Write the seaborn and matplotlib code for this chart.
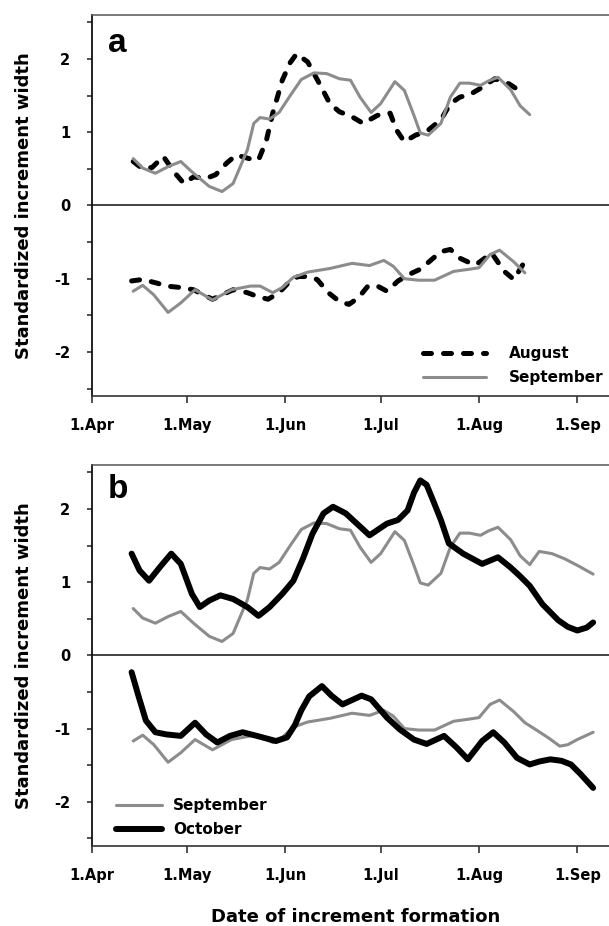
import matplotlib
matplotlib.use("Agg")
import numpy as np
import pandas as pd
import matplotlib.pyplot as plt
import seaborn as sns

# ─── Data (x = days counted from 1 April) ────────────────────────────────────
MONTH_DAYS   = [0, 30, 61, 91, 122, 153]
MONTH_LABELS = ["1.Apr", "1.May", "1.Jun", "1.Jul", "1.Aug", "1.Sep"]

# September chronology (shown in both panels)
sep_pos_day = [13, 16, 20, 24, 28, 32, 37, 41, 44.5, 49, 51, 53, 56, 59, 62.5,
               66, 70, 74, 78, 81.5, 84.5, 88, 91, 95.5, 98.5, 101.5, 103.5,
               106, 110, 113, 116, 119, 122.5, 125, 128, 132, 135, 138, 141,
               145, 149, 153, 158]
sep_pos_val = [0.64, 0.51, 0.44, 0.53, 0.60, 0.44, 0.26, 0.19, 0.30, 0.76,
               1.12, 1.20, 1.18, 1.27, 1.50, 1.72, 1.81, 1.80, 1.73, 1.71,
               1.48, 1.27, 1.39, 1.69, 1.57, 1.23, 0.99, 0.96, 1.12, 1.48,
               1.67, 1.67, 1.64, 1.70, 1.75, 1.58, 1.36, 1.24, 1.42, 1.39,
               1.32, 1.23, 1.11]
sep_neg_day = [13, 16, 19.5, 24, 28, 32.5, 38, 44, 50, 53, 57, 60, 63.5, 68,
               75, 82, 87.5, 92, 95, 98.5, 103, 108, 114, 119, 122, 125.5,
               128.5, 133, 136.5, 140.5, 144, 147.5, 150, 153, 158]
sep_neg_val = [-1.17, -1.09, -1.22, -1.46, -1.33, -1.15, -1.29, -1.15, -1.10,
               -1.10, -1.19, -1.12, -0.98, -0.91, -0.86, -0.79, -0.82, -0.75,
               -0.83, -1.00, -1.02, -1.02, -0.90, -0.87, -0.85, -0.67, -0.61,
               -0.77, -0.92, -1.03, -1.13, -1.24, -1.22, -1.15, -1.05]

# August chronology (panel a)
aug_pos_day = [13, 16, 19, 22.5, 26, 29, 32, 36, 39, 42.5, 45.5, 49.5, 52.5,
               55, 57, 60, 62.5, 64.5, 68, 72, 75, 78, 82, 85.5, 90, 94, 96,
               98.5, 102, 105.5, 110, 113, 116, 119, 122.5, 127, 131.5, 136]
aug_pos_val = [0.60, 0.50, 0.52, 0.67, 0.45, 0.30, 0.39, 0.37, 0.42, 0.58,
               0.69, 0.64, 0.62, 0.89, 1.26, 1.71, 1.95, 2.07, 1.96, 1.64,
               1.39, 1.28, 1.21, 1.12, 1.23, 1.26, 1.03, 0.87, 0.96, 1.01,
               1.17, 1.39, 1.48, 1.51, 1.60, 1.73, 1.66, 1.53]
aug_neg_day = [12.5, 16, 20.5, 23.5, 28, 32, 38, 44.5, 49, 52, 55.5, 59, 62.5,
               65, 68, 71, 74.5, 78, 81, 84, 87, 90, 93, 96.5, 100, 103.5,
               106.5, 110, 113, 116, 119, 121, 126, 130, 133, 136.5]
aug_neg_val = [-1.03, -1.01, -1.06, -1.10, -1.12, -1.15, -1.28, -1.15, -1.19,
               -1.24, -1.28, -1.19, -1.03, -0.97, -0.97, -1.01, -1.19, -1.31,
               -1.35, -1.26, -1.10, -1.10, -1.17, -1.03, -0.94, -0.87, -0.76,
               -0.63, -0.60, -0.72, -0.78, -0.81, -0.65, -0.90, -1.01, -0.76]

# October chronology (panel b)
oct_pos_day = [12.5, 15, 18, 21.5, 25, 28, 31.5, 34, 37, 40.5, 44.5, 49, 52.5,
               56, 60, 63.5, 66.5, 69.5, 73, 76, 80, 84, 87.5, 93, 96.5, 99.5,
               101.5, 103.5, 105.5, 107.5, 110, 112.5, 117, 123, 128, 132,
               135, 138, 142, 147, 150, 153, 156, 158]
oct_pos_val = [1.39, 1.16, 1.02, 1.21, 1.39, 1.25, 0.84, 0.66, 0.75, 0.82,
               0.77, 0.66, 0.54, 0.66, 0.84, 1.02, 1.32, 1.66, 1.94, 2.03,
               1.94, 1.78, 1.64, 1.80, 1.85, 1.98, 2.22, 2.39, 2.33, 2.12,
               1.85, 1.53, 1.39, 1.25, 1.34, 1.20, 1.08, 0.95, 0.70, 0.48,
               0.39, 0.34, 0.38, 0.45]
oct_neg_day = [12.5, 14.5, 17, 20, 23.5, 28, 32.5, 36, 39.5, 43.5, 47.5, 52,
               58, 61.5, 64, 66, 68.5, 72.5, 75.5, 79, 85, 88, 93, 97, 101.5,
               105.5, 111, 115, 118.5, 123, 126.5, 130, 134, 138, 141, 144.5,
               148, 151, 154, 158]
oct_neg_val = [-0.23, -0.53, -0.89, -1.05, -1.08, -1.10, -0.92, -1.08, -1.19,
               -1.10, -1.05, -1.10, -1.17, -1.12, -0.95, -0.75, -0.56, -0.42,
               -0.55, -0.67, -0.55, -0.60, -0.85, -1.01, -1.15, -1.21, -1.10,
               -1.26, -1.42, -1.17, -1.05, -1.19, -1.40, -1.49, -1.45, -1.42,
               -1.44, -1.49, -1.62, -1.81]

TOP_END = 138   # panel a stops in mid August

# ─── Styling ─────────────────────────────────────────────────────────────────
sns.set_style("ticks")
plt.rcParams["font.family"] = ["DejaVu Sans"]
plt.rcParams["axes.unicode_minus"] = False
plt.rcParams["text.color"] = "black"
plt.rcParams["xtick.color"] = "black"
plt.rcParams["ytick.color"] = "black"

GRAY = "#8c8c8c"
BOLD = dict(weight="bold")
SOLID = dict(solid_joinstyle="round", solid_capstyle="round")


def series(days, vals, end=None):
    df = pd.DataFrame({"day": days, "val": vals})
    if end is not None:
        df = df[df["day"] <= end]
    return df


def draw(ax, df, **kw):
    sns.lineplot(data=df, x="day", y="val", ax=ax, estimator=None, sort=False, **kw)


def style_axes(ax):
    ax.set_xlim(0, 163)
    ax.set_ylim(-2.6, 2.6)
    ax.axhline(0, color="#222222", lw=1.2, zorder=1)
    ax.set_xticks(MONTH_DAYS)
    ax.set_xticklabels(MONTH_LABELS, fontsize=10.5, **BOLD)
    ax.set_yticks([-2, -1, 0, 1, 2])
    ax.set_yticklabels(["-2", "-1", "0", "1", "2"], fontsize=10.5, **BOLD)
    ax.set_yticks([-2.5, -1.5, -0.5, 0.5, 1.5, 2.5], minor=True)
    ax.tick_params(axis="y", which="both", direction="out", length=3.6,
                   width=1.1, pad=12, color="#222222")
    ax.tick_params(axis="x", direction="out", length=4.8, width=1.1,
                   pad=11, color="#222222")
    ax.set_xlabel("")
    ax.set_ylabel("")
    ax.spines["right"].set_visible(False)
    ax.spines["left"].set_linewidth(1.3)
    ax.spines["left"].set_color("#111111")
    ax.spines["bottom"].set_linewidth(1.2)
    ax.spines["bottom"].set_color("#333333")
    ax.spines["top"].set_linewidth(1.1)
    ax.spines["top"].set_color("#555555")


fig = plt.figure(figsize=(6.09, 9.26), dpi=100)
ax_a = fig.add_axes([0.151, 0.5724, 0.849, 0.4114])
ax_b = fig.add_axes([0.151, 0.0867, 0.849, 0.4111])

# ─── Panel a: August vs September ────────────────────────────────────────────
dash = dict(color="black", lw=3.6, linestyle=(0, (1.6, 2.4)),
            dash_capstyle="round", dash_joinstyle="round")
draw(ax_a, series(aug_pos_day, aug_pos_val), label="August", **dash)
draw(ax_a, series(aug_neg_day, aug_neg_val), **dash)
draw(ax_a, series(sep_pos_day, sep_pos_val, TOP_END), color=GRAY, lw=2.2,
     label="September", **SOLID)
draw(ax_a, series(sep_neg_day, sep_neg_val, TOP_END), color=GRAY, lw=2.2,
     **SOLID)
style_axes(ax_a)
ax_a.text(0.031, 0.903, "a", transform=ax_a.transAxes, fontsize=24,
          family="Liberation Sans", va="baseline", ha="left", **BOLD)
h, l = ax_a.get_legend_handles_labels()
ax_a.legend(h[:2], l[:2], loc="center left", bbox_to_anchor=(0.6946, 0.605),
            bbox_transform=fig.transFigure, frameon=False, borderpad=0,
            borderaxespad=0, handlelength=4.1, handletextpad=1.5,
            labelspacing=0.6, prop=dict(size=11, weight="bold"))

# ─── Panel b: September vs October ───────────────────────────────────────────
draw(ax_b, series(sep_pos_day, sep_pos_val), color=GRAY, lw=2.2,
     label="September", **SOLID)
draw(ax_b, series(sep_neg_day, sep_neg_val), color=GRAY, lw=2.2, **SOLID)
draw(ax_b, series(oct_pos_day, oct_pos_val), color="black", lw=4.3,
     label="October", **SOLID)
draw(ax_b, series(oct_neg_day, oct_neg_val), color="black", lw=4.3, **SOLID)
style_axes(ax_b)
ax_b.text(0.031, 0.913, "b", transform=ax_b.transAxes, fontsize=24,
          family="Liberation Sans", va="baseline", ha="left", **BOLD)
h, l = ax_b.get_legend_handles_labels()
ax_b.legend(h[:2], l[:2], loc="center left", bbox_to_anchor=(0.191, 0.1172),
            bbox_transform=fig.transFigure, frameon=False, borderpad=0,
            borderaxespad=0, handlelength=3.0, handletextpad=0.7,
            labelspacing=0.6, prop=dict(size=11, weight="bold"))

# ─── Axis titles ─────────────────────────────────────────────────────────────
for yc in (0.778, 0.292):
    fig.text(24 / 609, yc, "Standardized increment width", rotation=90,
             ha="center", va="center", fontsize=13, **BOLD)
fig.text(356 / 609, 0.0043, "Date of increment formation", ha="center",
         va="baseline", fontsize=13, **BOLD)

fig.savefig("out.png", dpi=100)
